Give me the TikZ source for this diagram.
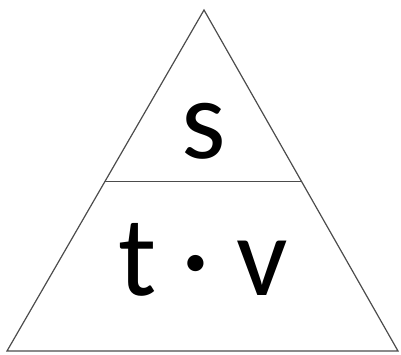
\documentclass[tikz,border=0pt]{standalone}
\usepackage{fontspec}
\setmainfont{Carlito}
\usetikzlibrary{calc,positioning}

\begin{document}
\begin{tikzpicture}[x=1pt, y=1pt]
    % Styles
    \tikzstyle{edge} = [draw=black!70, line width=1.2pt, line join=miter]
    \tikzstyle{letter} = [inner sep=0pt, anchor=base, font=\fontsize{114}{120}\selectfont]

    \useasboundingbox (0,0) rectangle (401,354);

    % Corners
    \coordinate (apex) at (204,344);
    \coordinate (bl) at (7,3);
    \coordinate (br) at (398,3);
    \coordinate (dl) at ($(bl)!0.497!(apex)$);
    \coordinate (dr) at ($(br)!0.497!(apex)$);

    % Nodes
    \node [letter] (s) at (204,196) {s};
    \node [letter] (tv) at (203,59) {t · v};

    % Lines
    \draw [edge] (apex) -- (br) -- (bl) -- cycle;
    \draw [edge] (dl) -- (dr);
\end{tikzpicture}
\end{document}
